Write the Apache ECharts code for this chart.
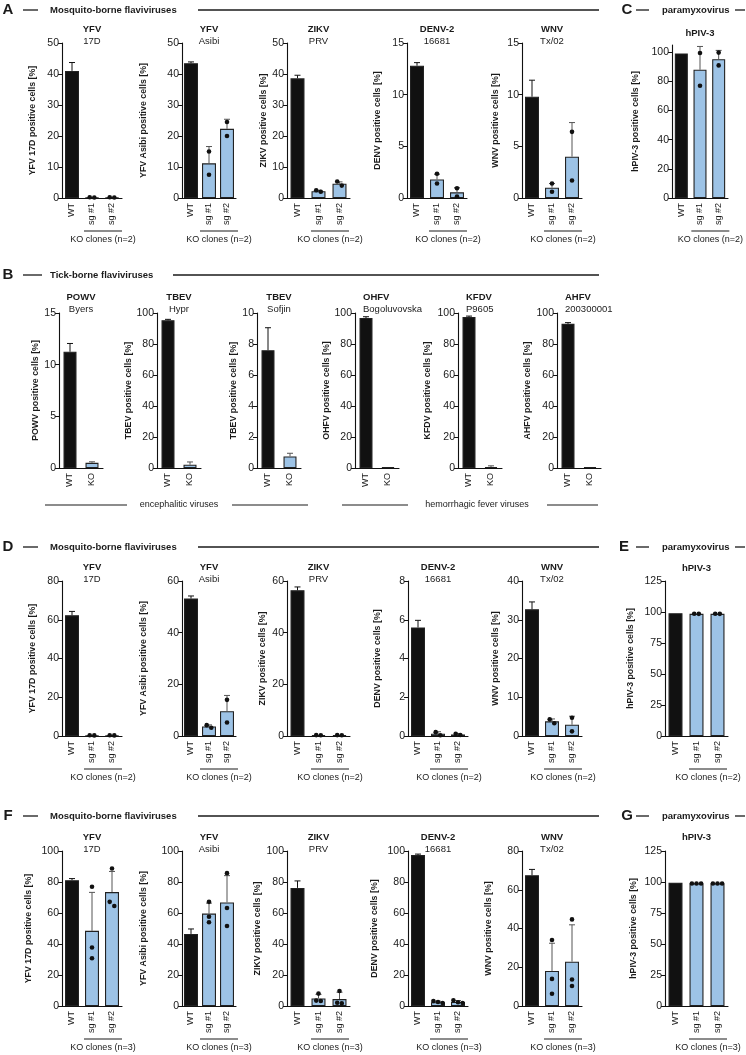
<!DOCTYPE html>
<html><head><meta charset="utf-8">
<script src="https://cdn.jsdelivr.net/npm/echarts@6/dist/echarts.min.js"></script>
<style>html,body{margin:0;padding:0;background:#fff}#c{width:746px;height:1055px}</style>
</head><body><div id="c"></div><script>
const FONT = '"Liberation Sans", Arial, Helvetica, sans-serif';

// ---------------- categories ----------------
const catsSg = ['WT', 'sg #1', 'sg #2'];
const catsKO = ['WT', 'KO'];

// ---------------- Row A: mosquito-borne (A) + paramyxovirus (C) ----------------
const A_title = ['YFV', 'YFV', 'ZIKV', 'DENV-2', 'WNV', 'hPIV-3'];
const A_sub = ['17D', 'Asibi', 'PRV', '16681', 'Tx/02', ''];
const A_yname = ['YFV 17D positive cells [%]', 'YFV Asibi positive cells [%]', 'ZIKV positive cells [%]', 'DENV positive cells [%]', 'WNV positive cells [%]', 'hPIV-3 positive cells [%]'];
const A_max = [50, 50, 50, 15, 15, 105];
const A_ticks = [[0,10,20,30,40,50],[0,10,20,30,40,50],[0,10,20,30,40,50],[0,5,10,15],[0,5,10,15],[0,20,40,60,80,100]];
const A_mean = [[41.0,0.2,0.2],[43.5,11.2,22.3],[38.6,2.2,4.6],[12.8,1.8,0.55],[9.8,1.0,4.0],[99.2,88.0,95.3]];
const A_sd = [[2.7,0,0],[0.4,5.4,3.1],[1.0,0.3,0.6],[0.3,0.5,0.45],[1.6,0.4,3.3],[0.2,16.0,6.0]];
const A_dots = [[[],[0.15,0.25],[0.15,0.25]],[[],[15.0,7.5],[24.5,20.0]],[[],[2.0,2.5],[5.3,4.0]],[[],[2.35,1.4],[0.95,0.15]],[[],[1.4,0.6],[6.4,1.7]],[[],[99.5,77.0],[99.8,91.0]]];

// ---------------- Row B: tick-borne ----------------
const B_title = ['POWV', 'TBEV', 'TBEV', 'OHFV', 'KFDV', 'AHFV'];
const B_sub = ['Byers', 'Hypr', 'Sofjin', 'Bogoluvovska', 'P9605', '200300001'];
const B_yname = ['POWV positive cells [%]', 'TBEV positive cells [%]', 'TBEV positive cells [%]', 'OHFV positive cells [%]', 'KFDV positive cells [%]', 'AHFV positive cells [%]'];
const B_max = [15, 100, 10, 100, 100, 100];
const B_ticks = [[0,5,10,15],[0,20,40,60,80,100],[0,2,4,6,8,10],[0,20,40,60,80,100],[0,20,40,60,80,100],[0,20,40,60,80,100]];
const B_mean = [[11.25,0.5],[95.3,2.1],[7.6,0.75],[96.8,0.5],[97.4,0.6],[93.0,0.6]];
const B_sd = [[0.8,0.1],[0.6,1.8],[1.45,0.2],[0.8,0.3],[0.6,0.8],[0.8,0.5]];
const B_dots = [[[],[]],[[],[]],[[],[]],[[],[]],[[],[]],[[],[]]];

// ---------------- Row D: mosquito-borne (D) + paramyxovirus (E) ----------------
const D_title = A_title;
const D_sub = A_sub;
const D_yname = A_yname;
const D_max = [80, 60, 60, 8, 40, 125];
const D_ticks = [[0,20,40,60,80],[0,20,40,60],[0,20,40,60],[0,2,4,6,8],[0,10,20,30,40],[0,25,50,75,100,125]];
const D_mean = [[62.3,0.3,0.3],[53.2,3.7,9.6],[56.4,0.3,0.3],[5.6,0.12,0.08],[32.7,3.8,2.9],[99.0,98.5,98.5]];
const D_sd = [[2.0,0,0],[1.0,0.6,6.1],[1.3,0,0],[0.37,0.1,0.05],[1.9,0.6,2.2],[0.2,0.2,0.2]];
const D_dots = [[[],[0.3,0.35],[0.3,0.35]],[[],[3.2,4.2],[14.0,5.2]],[[],[0.3,0.35],[0.3,0.35]],[[],[0.2,0.04],[0.12,0.05]],[[],[4.3,3.3],[4.7,1.2]],[[],[98.5,98.6],[98.5,98.6]]];

// ---------------- Row F: mosquito-borne (F) + paramyxovirus (G) ----------------
const F_title = A_title;
const F_sub = A_sub;
const F_yname = A_yname;
const F_max = [100, 100, 100, 100, 80, 125];
const F_ticks = [[0,20,40,60,80,100],[0,20,40,60,80,100],[0,20,40,60,80,100],[0,20,40,60,80,100],[0,20,40,60,80],[0,25,50,75,100,125]];
const F_mean = [[81.2,48.5,73.5],[46.5,59.6,66.8],[76.2,4.9,4.5],[97.4,2.5,2.6],[67.5,18.1,22.9],[99.3,98.8,98.8]];
const F_sd = [[1.0,24.8,13.3],[3.2,6.8,17.3],[4.5,2.6,4.4],[0.6,0.6,0.9],[3.0,14.3,19.0],[0.3,0.1,0.1]];
const F_dots = [[[],[76.9,37.7,30.8],[88.7,67.2,64.5]],[[],[67.2,57.6,54.0],[85.7,63.2,51.6]],[[],[8.0,3.5,3.2],[9.7,1.7,2.1]],[[],[3.2,1.9,2.6],[1.9,3.7,2.4]],[[],[34.1,14.0,6.3],[44.7,13.7,10.3]],[[],[98.8,98.8,98.8],[98.8,98.8,98.8]]];

// ---------------- layout (pixels) ----------------
const LAY_A = { top:[43,43,43,43,43,45], h:[155,155,155,155,155,153], left:[62,182,287,407,522,672], w:[60,54,63,60,60,56], nameX:[32,143,265,377,495,635], bw:[14,14,14,14,14,13], tAlign:['c','c','c','c','c','c'], titleY:[29,29,29,29,29,33] };
const LAY_B = { top:[313,313,313,313,313,313], h:[155,155,155,155,155,155], left:[59,157,257,355,458,557], w:[44,44,44,44,44,44], nameX:[35,128,233,330,427,527], bw:[13,13,13,13,13,13], tAlign:['c','c','c','l','l','l'], titleY:[297,297,297,297,297,297] };
const LAY_D = { top:[581,581,581,581,581,581], h:[155,155,155,155,155,155], left:[62,182,287,408,522,665], w:[60,54,63,60,60,63], nameX:[32,143,262,377,495,630], bw:[14,14,14,14,14,14], tAlign:['c','c','c','c','c','c'], titleY:[567,567,567,567,567,568] };
const LAY_F = { top:[851,851,851,851,851,851], h:[155,155,155,155,155,155], left:[62,182,287,408,522,665], w:[60,54,63,60,60,63], nameX:[28,143,257,374,488,633], bw:[14,14,14,14,14,14], tAlign:['c','c','c','c','c','c'], titleY:[837,837,837,837,837,837] };

const BLACK = '#111111', BLUE = '#9dc3e6', EDGE = '#222222', TXT = '#1a1a1a';
const grids = [], xAxes = [], yAxes = [], series = [], G = [];

function txt(x, y, s, size, bold, align) {
  G.push({ type:'text', x, y, silent:true, style:{ text:s, font:(bold?'bold ':'') + size + 'px ' + FONT, fill:TXT, align: align || 'center', verticalAlign:'middle' } });
}
function hline(x1, x2, y, lw) {
  G.push({ type:'line', silent:true, shape:{ x1, y1:y, x2, y2:y }, style:{ stroke:TXT, lineWidth: lw || 1.2 } });
}

function addPanel(cats, title, sub, yname, max, ticks, mean, sd, dots, lay, i) {
  const k = grids.length;
  const left = lay.left[i], top = lay.top[i], w = lay.w[i], h = lay.h[i];
  grids.push({ left, top, width:w, height:h, containLabel:false });
  xAxes.push({ gridIndex:k, type:'category', data:cats,
    axisLine:{ lineStyle:{ color:BLACK, width:1.1 } },
    axisTick:{ alignWithLabel:true, length:3, lineStyle:{ color:BLACK } },
    axisLabel:{ rotate:90, interval:0, fontSize:9, color:TXT, margin:5, fontFamily:FONT } });
  yAxes.push({ gridIndex:k, type:'value', min:0, max, interval: ticks[1]-ticks[0],
    axisLine:{ show:true, lineStyle:{ color:BLACK, width:1.1 } },
    axisTick:{ show:true, length:4, lineStyle:{ color:BLACK }, customValues:ticks },
    axisLabel:{ fontSize:10.5, color:TXT, margin:3, fontFamily:FONT, customValues:ticks },
    splitLine:{ show:false },
    name:yname, nameLocation:'middle', nameGap: left - lay.nameX[i] - 5,
    nameTextStyle:{ fontSize:8.8, fontWeight:'bold', color:TXT, fontFamily:FONT } });
  series.push({ type:'bar', xAxisIndex:k, yAxisIndex:k, barWidth:lay.bw[i], silent:true, z:2,
    data: mean.map((v, j) => ({ value:v, itemStyle:{ color: j === 0 ? BLACK : BLUE, borderColor:EDGE, borderWidth:1.1 } })) });
  series.push({ type:'custom', xAxisIndex:k, yAxisIndex:k, silent:true, z:3,
    data: mean.map((v, j) => [j, v, v + sd[j]]),
    renderItem: (p, api) => {
      const b = api.coord([api.value(0), api.value(1)]);
      const t = api.coord([api.value(0), api.value(2)]);
      if (b[1] - t[1] < 0.8) return null;
      const col = api.value(0) === 0 ? BLACK : '#555555';
      return { type:'group', children:[
        { type:'line', shape:{ x1:b[0], y1:b[1], x2:t[0], y2:t[1] }, style:{ stroke:col, lineWidth:1 } },
        { type:'line', shape:{ x1:t[0]-3, y1:t[1], x2:t[0]+3, y2:t[1] }, style:{ stroke:col, lineWidth:1 } } ] };
    } });
  series.push({ type:'custom', xAxisIndex:k, yAxisIndex:k, silent:true, z:4,
    data: dots.map((arr, j) => [j, arr.length ? arr[0] : 0]),
    renderItem: (p, api) => {
      const j = p.dataIndex, vals = dots[j];
      if (!vals.length) return null;
      const pts = vals.map(v => api.coord([j, v])).sort((a, b) => a[1] - b[1]);
      const groups = [];
      pts.forEach(pt => {
        const g = groups[groups.length - 1];
        if (g && pt[1] - g[g.length - 1][1] < 4.5) g.push(pt); else groups.push([pt]);
      });
      const children = [];
      groups.forEach(g => g.forEach((pt, n) => {
        const dx = (n - (g.length - 1) / 2) * 4.6;
        children.push({ type:'circle', shape:{ cx:pt[0] + dx, cy:pt[1], r:2.3 }, style:{ fill:BLACK } });
      }));
      return { type:'group', children };
    } });
  // titles
  const cx = left + w / 2;
  const ty = lay.titleY[i];
  if (lay.tAlign[i] === 'l') {
    txt(left + 8, ty, title, 9.5, true, 'left');
    if (sub) txt(left + 8, ty + 12, sub, 9.5, false, 'left');
  } else {
    txt(cx, ty, title, 9.5, true);
    if (sub) txt(cx, ty + 12, sub, 9.5, false);
  }
}

function addRow(cats, T, S, Y, M, TK, ME, SD, DT, lay, koLabel) {
  for (let i = 0; i < T.length; i++) {
    addPanel(cats, T[i], S[i], Y[i], M[i], TK[i], ME[i], SD[i], DT[i], lay, i);
    if (koLabel) {
      const bottom = lay.top[i] + lay.h[i];
      const c = lay.left[i] + lay.w[i] * 2 / 3 + 1;
      hline(c - 19, c + 19, bottom + 33, 1.2);
      txt(c, bottom + 42, koLabel, 9, false);
    }
  }
}

addRow(catsSg, A_title, A_sub, A_yname, A_max, A_ticks, A_mean, A_sd, A_dots, LAY_A, 'KO clones (n=2)');
addRow(catsKO, B_title, B_sub, B_yname, B_max, B_ticks, B_mean, B_sd, B_dots, LAY_B, null);
addRow(catsSg, D_title, D_sub, D_yname, D_max, D_ticks, D_mean, D_sd, D_dots, LAY_D, 'KO clones (n=2)');
addRow(catsSg, F_title, F_sub, F_yname, F_max, F_ticks, F_mean, F_sd, F_dots, LAY_F, 'KO clones (n=3)');

// section headers
function header(letter, y, label, dashEnd, lineStart) {
  txt(8, y, letter, 15, true);
  hline(23, dashEnd, y, 1.3);
  txt(50, y, label, 9.5, true, 'left');
  hline(lineStart, 599, y, 1.3);
}
function paraHeader(letter, lx, y) {
  txt(lx, y, letter, 15, true);
  hline(636, 649, y, 1.3);
  txt(662, y, 'paramyxovirus', 9.5, true, 'left');
  hline(735, 745, y, 1.3);
}
header('A', 10, 'Mosquito-borne flaviviruses', 38, 198);
paraHeader('C', 627, 10);
header('B', 275, 'Tick-borne flaviviruses', 42, 173);
header('D', 547, 'Mosquito-borne flaviviruses', 38, 198);
paraHeader('E', 624, 547);
header('F', 816, 'Mosquito-borne flaviviruses', 38, 198);
paraHeader('G', 627, 816);

// row B group labels
hline(45, 127, 505, 1.2); hline(232, 308, 505, 1.2);
txt(179, 505, 'encephalitic viruses', 9, false);
hline(342, 408, 505, 1.2); hline(547, 598, 505, 1.2);
txt(477, 505, 'hemorrhagic fever viruses', 9, false);

const chart = echarts.init(document.getElementById('c'), null, { renderer:'canvas' });
chart.setOption({ animation:false, backgroundColor:'#ffffff', textStyle:{ fontFamily:FONT },
  grid:grids, xAxis:xAxes, yAxis:yAxes, series, graphic:{ elements:G } });
</script></body></html>
